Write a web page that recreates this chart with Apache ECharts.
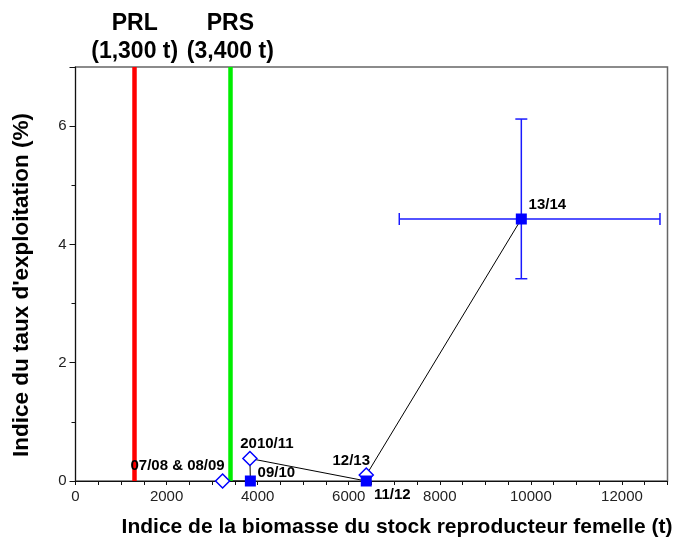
<!DOCTYPE html>
<html>
<head>
<meta charset="utf-8">
<script src="https://cdn.jsdelivr.net/npm/echarts@6/dist/echarts.min.js"></script>
<style>
html,body{margin:0;padding:0;background:#fff;}
#chart{width:686px;height:557px;}
</style>
</head>
<body>
<div id="chart"></div>
<script>
// ---- data ----
var pointNames = ['07/08 & 08/09', '09/10', '2010/11', '11/12', '12/13', '13/14'];
var biomass    = [3230, 3840, 3830, 6385, 6385, 9790];
var exploit    = [0, 0, 0.38, 0, 0.1, 4.43];
var pointType  = ['open', 'filled', 'open', 'filled', 'open', 'filled'];
var errBiomass = [7110, 12835];   // horizontal error range for 13/14
var errExploit = [3.42, 6.12];    // vertical error range for 13/14
var refNames   = ['PRL', 'PRS'];
var refValues  = [1300, 3400];
var refLabels  = ['(1,300 t)', '(3,400 t)'];
var xTicks = [0, 2000, 4000, 6000, 8000, 10000, 12000];
var yTicks = [0, 2, 4, 6];

// ---- styles (not data) ----
var labelOffsets = {
  '07/08 & 08/09': [-45, -15],
  '09/10': [26, -8],
  '2010/11': [17, -15],
  '11/12': [26, 14],
  '12/13': [-15, -14],
  '13/14': [26, -14]
};
var refColors = ['#ff0000', '#00ee00'];
var FONT = '"Liberation Sans", Arial, sans-serif';

var lineData = biomass.map(function (b, i) { return [b, exploit[i]]; });

function pointsOf(type) {
  var out = [];
  for (var i = 0; i < pointNames.length; i++) {
    if (pointType[i] !== type) continue;
    out.push({
      name: pointNames[i],
      value: [biomass[i], exploit[i]],
      label: { offset: labelOffsets[pointNames[i]] }
    });
  }
  return out;
}

var pointLabel = {
  show: true, position: 'inside', align: 'center', verticalAlign: 'middle',
  formatter: '{b}', fontFamily: FONT, fontWeight: 'bold', fontSize: 15, color: '#000',
  textBorderWidth: 0, textShadowBlur: 0
};

var errIdx = pointNames.indexOf('13/14');

var option = {
  animation: false,
  backgroundColor: '#fff',
  textStyle: { fontFamily: FONT },
  grid: { left: 75.5, right: 18.5, top: 67, bottom: 76, show: true, borderColor: '#666', borderWidth: 1.5, backgroundColor: 'transparent' },
  xAxis: {
    type: 'value', min: 0, max: 13000, interval: 2000,
    name: 'Indice de la biomasse du stock reproducteur femelle (t)',
    nameLocation: 'middle', nameGap: 36,
    nameTextStyle: { fontFamily: FONT, fontWeight: 'bold', fontSize: 21, color: '#000', padding: [0, 0, 0, 51] },
    axisLine: { show: true, lineStyle: { color: '#111', width: 1 } },
    axisTick: { show: true, inside: false, length: 4, lineStyle: { color: '#111' } },
    minorTick: { show: true, splitNumber: 4, length: 4, lineStyle: { color: '#111' } },
    splitLine: { show: false },
    axisLabel: {
      fontFamily: FONT, fontSize: 15, color: '#222', margin: 8,
      formatter: function (v) { return xTicks.indexOf(v) >= 0 ? String(v) : ''; }
    }
  },
  yAxis: {
    type: 'value', min: 0, max: 7, interval: 2,
    name: "Indice du taux d'exploitation (%)",
    nameLocation: 'middle', nameGap: 42,
    nameTextStyle: { fontFamily: FONT, fontWeight: 'bold', fontSize: 22.5, color: '#000', padding: [0, 22, 0, 0] },
    axisLine: { show: true, lineStyle: { color: '#111', width: 1 } },
    axisTick: { show: true, inside: false, length: 6, lineStyle: { color: '#111' } },
    minorTick: { show: true, splitNumber: 2, length: 4, lineStyle: { color: '#111' } },
    splitLine: { show: false },
    axisLabel: {
      fontFamily: FONT, fontSize: 15, color: '#222', margin: 9,
      formatter: function (v) { return yTicks.indexOf(v) >= 0 ? String(v) : ''; }
    }
  },
  series: [
    {
      type: 'line', name: 'refs', data: [], silent: true,
      markLine: {
        symbol: 'none', silent: true,
        data: refValues.map(function (v, i) {
          return {
            xAxis: v,
            lineStyle: { color: refColors[i], width: 4.5, type: 'solid' },
            label: {
              show: true, position: 'end', distance: 1,
              formatter: refNames[i] + '\n' + refLabels[i],
              fontFamily: FONT, fontWeight: 'bold', fontSize: 23, lineHeight: 28, color: '#000'
            }
          };
        })
      }
    },
    {
      type: 'line', name: 'path', data: lineData, symbol: 'none',
      lineStyle: { color: '#000', width: 1 }, z: 3
    },
    {
      type: 'custom', name: 'err', z: 4,
      data: [[biomass[errIdx], exploit[errIdx], errBiomass[0], errBiomass[1], errExploit[0], errExploit[1]]],
      renderItem: function (params, api) {
        var l = api.coord([api.value(2), api.value(1)]);
        var r = api.coord([api.value(3), api.value(1)]);
        var b = api.coord([api.value(0), api.value(4)]);
        var t = api.coord([api.value(0), api.value(5)]);
        var cap = 6;
        var st = { stroke: '#1a1aff', lineWidth: 1.5 };
        return {
          type: 'group',
          children: [
            { type: 'line', shape: { x1: l[0], y1: l[1], x2: r[0], y2: r[1] }, style: st },
            { type: 'line', shape: { x1: l[0], y1: l[1] - cap, x2: l[0], y2: l[1] + cap }, style: st },
            { type: 'line', shape: { x1: r[0], y1: r[1] - cap, x2: r[0], y2: r[1] + cap }, style: st },
            { type: 'line', shape: { x1: b[0], y1: b[1], x2: t[0], y2: t[1] }, style: st },
            { type: 'line', shape: { x1: b[0] - cap, y1: b[1], x2: b[0] + cap, y2: b[1] }, style: st },
            { type: 'line', shape: { x1: t[0] - cap, y1: t[1], x2: t[0] + cap, y2: t[1] }, style: st }
          ]
        };
      }
    },
    {
      type: 'scatter', name: 'open', data: pointsOf('open'),
      symbol: 'diamond', symbolSize: 14, z: 5,
      itemStyle: { color: '#fff', borderColor: '#0000ff', borderWidth: 1.5, opacity: 1 },
      label: pointLabel
    },
    {
      type: 'scatter', name: 'filled', data: pointsOf('filled'),
      symbol: 'rect', symbolSize: 11, z: 5,
      itemStyle: { color: '#0000ff', opacity: 1 },
      label: pointLabel
    }
  ]
};

var chart = echarts.init(document.getElementById('chart'), null, { renderer: 'canvas' });
chart.setOption(option);
</script>
</body>
</html>
